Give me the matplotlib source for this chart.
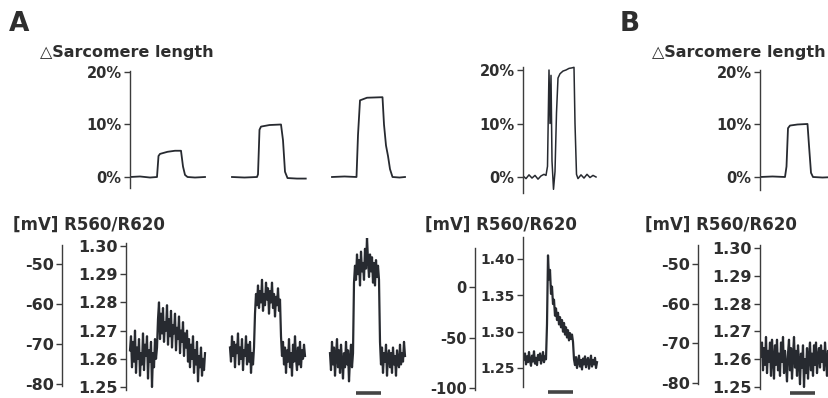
import numpy as np
import matplotlib
matplotlib.use("Agg")
import matplotlib.pyplot as plt

# ---------------- data ----------------
# Sarcomere length change (%), breakpoints (time s, value %)
sl1_t = [0.0, 0.4, 0.8, 1.08, 1.14, 1.20, 1.50, 1.80, 2.04, 2.12, 2.20, 2.30, 2.60, 3.0]
sl1_v = [0.0, 0.1, -0.1, 0.0, 4.0, 4.4, 4.8, 5.0, 5.0, 2.0, 0.4, 0.0, -0.1, 0.0]
sl2_t = [0.0, 0.5, 1.0, 1.04, 1.10, 1.16, 1.50, 1.96, 2.04, 2.12, 2.22, 2.6, 2.95]
sl2_v = [0.0, -0.1, 0.0, 0.5, 9.0, 9.6, 9.9, 10.0, 7.0, 1.0, -0.2, -0.3, -0.3]
sl3_t = [0.0, 0.5, 0.98, 1.04, 1.12, 1.40, 2.02, 2.08, 2.16, 2.24, 2.32, 2.42, 2.7, 2.92]
sl3_v = [0.0, 0.1, 0.0, 8.0, 14.6, 15.1, 15.2, 10.0, 6.0, 4.0, 1.5, 0.0, -0.1, 0.0]
sl4_t = [0.0, 0.12, 0.24, 0.36, 0.48, 0.60, 0.72, 0.84, 0.92, 0.98, 1.04, 1.08, 1.12, 1.16,
         1.22, 1.28, 1.34, 1.40, 1.48, 1.60, 1.72, 1.84, 1.96, 2.04, 2.08, 2.14, 2.20,
         2.32, 2.44, 2.56, 2.68, 2.80, 2.92]
sl4_v = [0.2, -0.3, 0.4, -0.2, 0.3, -0.4, 0.2, 0.5, 0.3, 2.0, 20.0, 10.0, 19.0, 3.0,
         -2.3, 1.0, 12.0, 18.5, 19.3, 19.8, 20.0, 20.3, 20.4, 20.5, 10.0, 0.5, -0.3,
         0.4, -0.2, 0.5, -0.1, 0.3, 0.0]
slB_t = [0.0, 0.5, 1.0, 1.06, 1.12, 1.20, 1.5, 1.90, 1.96, 2.04, 2.12, 2.5, 3.0]
slB_v = [0.0, 0.1, 0.0, 2.0, 9.3, 9.8, 10.0, 10.1, 6.0, 0.8, 0.0, -0.1, 0.0]

# R560/R620 ratio traces (one sample every 0.04 s)
ratio_A1 = [
    1.263, 1.268, 1.257, 1.266, 1.259, 1.270, 1.255, 1.264, 1.260, 1.267, 1.254, 1.262, 1.258, 1.269,
    1.256, 1.265, 1.261, 1.268, 1.253, 1.263, 1.259, 1.266, 1.250, 1.262, 1.257, 1.267, 1.260, 1.264,
    1.274, 1.280, 1.267, 1.276, 1.269, 1.278, 1.266, 1.273, 1.270, 1.279, 1.265, 1.274, 1.268, 1.277,
    1.264, 1.272, 1.269, 1.276, 1.263, 1.271, 1.267, 1.275, 1.262, 1.270, 1.266, 1.273, 1.261, 1.269,
    1.264, 1.270, 1.259, 1.267, 1.257, 1.265, 1.260, 1.268, 1.255, 1.263, 1.258, 1.266, 1.252, 1.261,
    1.257, 1.264, 1.254, 1.260, 1.256, 1.262]
ratio_A2 = [
    1.264, 1.259, 1.268, 1.261, 1.266, 1.257, 1.265, 1.262, 1.269, 1.258, 1.264, 1.260, 1.267, 1.256,
    1.263, 1.261, 1.268, 1.258, 1.265, 1.259, 1.266, 1.255, 1.262, 1.258, 1.264,
    1.276, 1.283, 1.279, 1.286, 1.278, 1.284, 1.280, 1.288, 1.277, 1.283, 1.279, 1.287, 1.281, 1.285,
    1.276, 1.284, 1.280, 1.287, 1.278, 1.283, 1.275, 1.282, 1.279, 1.285, 1.277, 1.281,
    1.268, 1.261, 1.266, 1.258, 1.264, 1.255, 1.263, 1.259, 1.267, 1.257, 1.262, 1.254, 1.265, 1.259,
    1.268, 1.260, 1.256, 1.264, 1.258, 1.266, 1.257, 1.263, 1.260, 1.265, 1.261]
ratio_A3 = [
    1.262, 1.256, 1.266, 1.258, 1.264, 1.254, 1.261, 1.267, 1.257, 1.263, 1.255, 1.265, 1.259, 1.253,
    1.262, 1.257, 1.266, 1.258, 1.263, 1.252, 1.260, 1.265, 1.257, 1.262,
    1.287, 1.293, 1.288, 1.297, 1.290, 1.295, 1.286, 1.298, 1.291, 1.294, 1.288, 1.299, 1.292, 1.303,
    1.295, 1.289, 1.297, 1.291, 1.296, 1.287, 1.294, 1.286, 1.295, 1.289, 1.293, 1.288,
    1.266, 1.258, 1.264, 1.255, 1.262, 1.259, 1.265, 1.254, 1.261, 1.263, 1.257, 1.262, 1.255, 1.264,
    1.258, 1.261, 1.254, 1.263, 1.259, 1.257, 1.265, 1.258, 1.262, 1.259, 1.266, 1.261]
ratio_A4 = [
    1.262, 1.270, 1.255, 1.266, 1.258, 1.272, 1.260, 1.253, 1.267, 1.259, 1.273, 1.256, 1.264, 1.254,
    1.268, 1.261, 1.270, 1.256, 1.263, 1.272, 1.258, 1.266, 1.262,
    1.310, 1.405, 1.372, 1.385, 1.352, 1.362, 1.338, 1.344, 1.322, 1.332, 1.316, 1.326, 1.310, 1.320,
    1.306, 1.316, 1.300, 1.312, 1.296, 1.306, 1.292, 1.302, 1.288, 1.298, 1.290, 1.296, 1.286,
    1.262, 1.254, 1.265, 1.250, 1.259, 1.267, 1.252, 1.261, 1.248, 1.263, 1.255, 1.266, 1.251, 1.260,
    1.264, 1.249, 1.258, 1.267, 1.252, 1.261, 1.255, 1.264, 1.250, 1.258]
ratio_B = [
    1.261, 1.266, 1.256, 1.264, 1.258, 1.268, 1.255, 1.263, 1.259, 1.266, 1.254, 1.267, 1.260, 1.253,
    1.265, 1.258, 1.267, 1.256, 1.262, 1.254, 1.266, 1.259, 1.268, 1.255, 1.263,
    1.258, 1.252, 1.262, 1.267, 1.256, 1.264, 1.253, 1.261, 1.268, 1.257, 1.263, 1.254, 1.265, 1.259,
    1.251, 1.262, 1.257, 1.265, 1.250, 1.260, 1.255, 1.264, 1.253, 1.261, 1.266,
    1.256, 1.262, 1.254, 1.265, 1.258, 1.266, 1.255, 1.261, 1.264, 1.257, 1.265, 1.259, 1.263, 1.256,
    1.266, 1.260, 1.254, 1.263, 1.258, 1.265, 1.257, 1.262, 1.259, 1.264, 1.260]

# tick values / labels
sl_ticks = [0, 10, 20]
sl_labels = ["0%", "10%", "20%"]
ratio_ticks_small = [1.25, 1.26, 1.27, 1.28, 1.29, 1.30]
ratio_labels_small = ["1.25", "1.26", "1.27", "1.28", "1.29", "1.30"]
ratio_ticks_big = [1.25, 1.30, 1.35, 1.40]
ratio_labels_big = ["1.25", "1.30", "1.35", "1.40"]
mv_ticks_small = [-80, -70, -60, -50]
mv_labels_small = ["-80", "-70", "-60", "-50"]
mv_ticks_big = [-100, -50, 0]
mv_labels_big = ["-100", "-50", "0"]

DT = 0.04          # seconds per sample
SCALE_S = 1.0      # time scale bar (s)

# ---------------- layout helpers ----------------
W, H = 829, 398
PX_PER_S = 25.0
TXT = "#2e2e2e"
LINE = "#272a30"
SPINE = "#3c3c3c"
FONT = "DejaVu Sans"

fig = plt.figure(figsize=(W / 100, H / 100), dpi=100)
fig.patch.set_facecolor("white")


def px_axes(x0, y0, x1, y1):
    ax = fig.add_axes([x0 / W, 1 - y1 / H, (x1 - x0) / W, (y1 - y0) / H])
    ax.set_facecolor("none")
    ax.set_xlim(0, (x1 - x0) / PX_PER_S)
    return ax


def value_at(px, va, ya, vb, yb):
    k = (va - vb) / (ya - yb)
    return vb + (px - yb) * k


def setup(ax, box, ref, spine_px, ticks, labels, fs):
    x0, y0, x1, y1 = box
    va, ya, vb, yb = ref
    ax.set_ylim(value_at(y1, va, ya, vb, yb), value_at(y0, va, ya, vb, yb))
    for s in ["top", "right", "bottom"]:
        ax.spines[s].set_visible(False)
    ax.spines["left"].set_color(SPINE)
    ax.spines["left"].set_linewidth(1.0)
    ax.spines["left"].set_bounds(value_at(spine_px[1], va, ya, vb, yb),
                                 value_at(spine_px[0], va, ya, vb, yb))
    ax.set_xticks([])
    ax.set_yticks(ticks)
    ax.set_yticklabels(labels)
    ax.tick_params(axis="y", direction="out", length=4, width=1.0, color=SPINE,
                   pad=2, labelsize=fs, labelcolor=TXT)
    for t in ax.get_yticklabels():
        t.set_fontweight("bold")
        t.set_family(FONT)


def ftext(x, y, s, size, **kw):
    fig.text(x / W, 1 - y / H, s, fontsize=size, fontweight="bold", color=TXT,
             family=FONT, va="center", ha="left", **kw)


def scale_bar(ax, t0, y_px, box):
    yf = (box[3] - y_px) / (box[3] - box[1])
    ax.plot([t0, t0 + SCALE_S], [yf, yf], color="#444444", lw=2.6,
            transform=ax.get_xaxis_transform(), solid_capstyle="butt", clip_on=False)


# ---------------- panel A, top ----------------
boxA_top = (130, 64, 410, 195)
axA_top = px_axes(*boxA_top)
setup(axA_top, boxA_top, (20, 72, 0, 177), (71, 188), sl_ticks, sl_labels, 10.5)
for off, tt, vv in [(0.0, sl1_t, sl1_v), (4.08, sl2_t, sl2_v), (8.08, sl3_t, sl3_v)]:
    axA_top.plot(np.array(tt) + off, vv, color=LINE, lw=1.3)

# ---------------- middle, top ----------------
boxM_top = (523, 60, 600, 198)
axM_top = px_axes(*boxM_top)
setup(axM_top, boxM_top, (20, 70, 0, 177), (67, 193), sl_ticks, sl_labels, 10.5)
axM_top.plot(sl4_t, sl4_v, color=LINE, lw=1.1)

# ---------------- panel B, top ----------------
boxB_top = (760, 64, 870, 195)
axB_top = px_axes(*boxB_top)
setup(axB_top, boxB_top, (20, 72, 0, 177), (70, 190), sl_ticks, sl_labels, 10.5)
axB_top.plot(slB_t, slB_v, color=LINE, lw=1.3)

# ---------------- panel A, bottom ----------------
boxA_bot = (126, 238, 410, 398)
axA_bot = px_axes(*boxA_bot)
setup(axA_bot, boxA_bot, (1.30, 246, 1.25, 387), (243, 390),
      ratio_ticks_small, ratio_labels_small, 11.5)
for off, rr in [(0.16, ratio_A1), (4.16, ratio_A2), (8.16, ratio_A3)]:
    axA_bot.plot(off + DT * np.arange(len(rr)), rr, color=LINE, lw=1.6)
scale_bar(axA_bot, 9.2, 393, boxA_bot)

boxA_mv = (62, 238, 63, 398)
axA_mv = px_axes(*boxA_mv)
setup(axA_mv, boxA_mv, (-50, 264, -80, 384), (245, 386), mv_ticks_small, mv_labels_small, 11.5)

# ---------------- middle, bottom ----------------
boxM_bot = (523, 232, 600, 398)
axM_bot = px_axes(*boxM_bot)
setup(axM_bot, boxM_bot, (1.40, 259, 1.25, 368), (237, 387),
      ratio_ticks_big, ratio_labels_big, 10)
axM_bot.plot(0.04 + DT * np.arange(len(ratio_A4)), ratio_A4, color=LINE, lw=1.6)
scale_bar(axM_bot, 1.0, 392, boxM_bot)

boxM_mv = (475, 232, 476, 398)
axM_mv = px_axes(*boxM_mv)
setup(axM_mv, boxM_mv, (0, 287, -100, 388), (248, 390), mv_ticks_big, mv_labels_big, 10.5)

# ---------------- panel B, bottom ----------------
boxB_bot = (760, 238, 870, 398)
axB_bot = px_axes(*boxB_bot)
setup(axB_bot, boxB_bot, (1.30, 248, 1.25, 387), (245, 389),
      ratio_ticks_small, ratio_labels_small, 11.5)
axB_bot.plot(0.04 + DT * np.arange(len(ratio_B)), ratio_B, color=LINE, lw=1.6)
scale_bar(axB_bot, 1.2, 393, boxB_bot)

boxB_mv = (698, 238, 699, 398)
axB_mv = px_axes(*boxB_mv)
setup(axB_mv, boxB_mv, (-50, 264, -80, 383), (245, 384), mv_ticks_small, mv_labels_small, 11.5)

# ---------------- texts ----------------
ftext(9, 24, "A", 19)
ftext(620, 24, "B", 19)
ftext(40, 52, "\u25b3Sarcomere length", 11.5)
ftext(652, 53, "\u25b3Sarcomere length", 11.5)
ftext(13, 225, "[mV] R560/R620", 12)
ftext(425, 225, "[mV] R560/R620", 12)
ftext(645, 225, "[mV] R560/R620", 12)

fig.savefig("out.png", dpi=100, facecolor="white")
